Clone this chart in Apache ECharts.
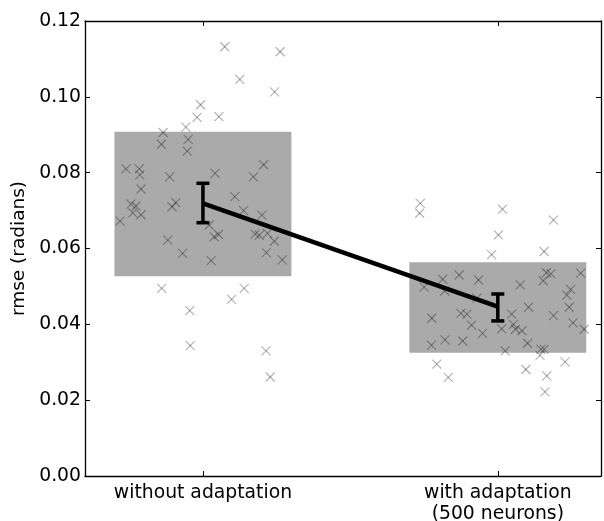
<!DOCTYPE html>
<html>
<head>
<meta charset="utf-8">
<script src="https://cdn.jsdelivr.net/npm/echarts@6/dist/echarts.min.js"></script>
<style>
html,body{margin:0;padding:0;background:#fff;}
#chart{width:604px;height:521px;}
</style>
</head>
<body>
<div id="chart"></div>
<script>
// ---- data ----
const categories = ['without adaptation', 'with adaptation\n(500 neurons)'];
const categoryPositions = [0, 1];
const meanValues = [0.0719, 0.0447];
const errLow = [0.0668, 0.0409];
const errHigh = [0.0772, 0.0480];
const boxLow = [0.0527, 0.0325];
const boxHigh = [0.0908, 0.0564];
const yTicks = [0, 0.02, 0.04, 0.06, 0.08, 0.10, 0.12];

// individual trials [x (jittered category position), rmse]
const trialsWithout = [
  [0.074,0.1132],[0.262,0.1119],[0.125,0.1046],[0.243,0.1013],[-0.008,0.0979],
  [-0.020,0.0946],[0.054,0.0948],[-0.135,0.0906],[-0.058,0.0920],[-0.141,0.0875],
  [-0.050,0.0888],[-0.053,0.0857],[-0.261,0.0810],[-0.216,0.0810],[-0.214,0.0794],
  [-0.113,0.0789],[0.041,0.0798],[0.171,0.0789],[0.206,0.0821],[-0.210,0.0757],
  [-0.244,0.0717],[-0.227,0.0712],[-0.238,0.0694],[-0.210,0.0689],[-0.281,0.0672],
  [-0.092,0.0721],[-0.105,0.0710],[0.108,0.0737],[0.138,0.0700],[0.200,0.0688],
  [0.021,0.0662],[0.038,0.0631],[0.053,0.0637],[0.177,0.0638],[0.191,0.0635],
  [0.219,0.0640],[0.242,0.0619],[-0.119,0.0622],[-0.069,0.0587],[0.028,0.0568],
  [0.215,0.0589],[0.269,0.0570],[-0.140,0.0495],[0.140,0.0495],[0.097,0.0466],
  [-0.045,0.0436],[-0.043,0.0344],[0.214,0.0330],[0.228,0.0261]
];
const trialsWith = [
  [0.737,0.0719],[0.735,0.0693],[1.016,0.0704],[1.189,0.0675],[1.002,0.0636],
  [0.979,0.0584],[1.157,0.0592],[1.281,0.0535],[1.165,0.0536],[1.180,0.0533],
  [1.154,0.0515],[0.869,0.0530],[0.813,0.0519],[0.935,0.0517],[0.750,0.0498],
  [0.820,0.0488],[1.076,0.0504],[1.247,0.0492],[1.234,0.0477],[0.929,0.0469],
  [1.104,0.0445],[1.242,0.0445],[1.189,0.0423],[0.776,0.0416],[0.875,0.0429],
  [0.895,0.0427],[1.047,0.0427],[0.911,0.0398],[0.948,0.0376],[1.013,0.0388],
  [1.053,0.0400],[1.060,0.0387],[1.082,0.0383],[1.255,0.0404],[1.293,0.0387],
  [0.775,0.0345],[0.821,0.0359],[0.881,0.0356],[1.101,0.0350],[1.025,0.0330],
  [1.146,0.0334],[1.157,0.0334],[1.143,0.0318],[0.793,0.0295],[0.832,0.0260],
  [1.095,0.0281],[1.228,0.0301],[1.166,0.0264],[1.160,0.0222]
];

// ---- styling constants ----
const FONT = 'DejaVu Sans';
const BOX_HALF = 0.3;

const chart = echarts.init(document.getElementById('chart'), null, {renderer: 'canvas'});

const boxData = categoryPositions.map((x, i) => [x, boxLow[i], boxHigh[i]]);
const errData = categoryPositions.map((x, i) => [x, errLow[i], errHigh[i]]);
const meanData = categoryPositions.map((x, i) => [x, meanValues[i]]);

function crossRender(params, api) {
  const p = api.coord([api.value(0), api.value(1)]);
  const s = 4.5;
  const st = {stroke: 'rgba(0,0,0,0.3)', lineWidth: 1.2, fill: null};
  return {type: 'group', children: [
    {type: 'line', shape: {x1: p[0]-s, y1: p[1]-s, x2: p[0]+s, y2: p[1]+s}, style: st},
    {type: 'line', shape: {x1: p[0]-s, y1: p[1]+s, x2: p[0]+s, y2: p[1]-s}, style: st}
  ]};
}

const option = {
  animation: false,
  backgroundColor: '#ffffff',
  grid: {left: 85, right: 3, top: 21, bottom: 45, containLabel: false, outerBoundsMode: 'none'},
  xAxis: [{
    type: 'value', min: -0.4, max: 1.35, position: 'bottom',
    axisLine: {show: true, onZero: false, lineStyle: {color: '#000', width: 1.3}},
    axisTick: {show: true, inside: true, length: 5, customValues: categoryPositions, lineStyle: {color: '#000', width: 1}},
    axisLabel: {show: true, customValues: categoryPositions, margin: 7, color: '#000', fontFamily: FONT, fontSize: 18.8, lineHeight: 21,
      formatter: v => { const i = categoryPositions.indexOf(Math.round(v)); return i >= 0 ? categories[i] : ''; }},
    splitLine: {show: false}
  }, {
    type: 'value', min: -0.4, max: 1.35, position: 'top',
    axisLine: {show: true, onZero: false, lineStyle: {color: '#000', width: 1.3}},
    axisTick: {show: true, inside: true, length: 5, customValues: categoryPositions, lineStyle: {color: '#000', width: 1}},
    axisLabel: {show: false},
    splitLine: {show: false}
  }],
  yAxis: [{
    type: 'value', min: 0, max: 0.12, interval: 0.02, position: 'left',
    name: 'rmse (radians)', nameLocation: 'middle', nameGap: 47,
    nameTextStyle: {color: '#000', fontFamily: FONT, fontSize: 18.5},
    axisLine: {show: true, onZero: false, lineStyle: {color: '#000', width: 1.3}},
    axisTick: {show: true, inside: true, length: 5, lineStyle: {color: '#000', width: 1}},
    axisLabel: {show: true, margin: 4, color: '#000', fontFamily: FONT, fontSize: 18.8,
      formatter: v => v.toFixed(2)},
    splitLine: {show: false}
  }, {
    type: 'value', min: 0, max: 0.12, interval: 0.02, position: 'right',
    axisLine: {show: true, onZero: false, lineStyle: {color: '#000', width: 1.3}},
    axisTick: {show: true, inside: true, length: 5, lineStyle: {color: '#000', width: 1}},
    axisLabel: {show: false},
    splitLine: {show: false}
  }],
  series: [
    {
      type: 'custom', name: 'box', xAxisIndex: 0, yAxisIndex: 0, z: 1,
      data: boxData,
      encode: {x: 0, y: [1, 2]},
      renderItem: (params, api) => {
        const x = api.value(0);
        const a = api.coord([x - BOX_HALF, api.value(2)]);
        const b = api.coord([x + BOX_HALF, api.value(1)]);
        return {type: 'rect', shape: {x: a[0], y: a[1], width: b[0]-a[0], height: b[1]-a[1]},
          style: {fill: '#aaaaaa', stroke: null}};
      }
    },
    {
      type: 'custom', name: 'without', z: 2, data: trialsWithout,
      encode: {x: 0, y: 1}, renderItem: crossRender
    },
    {
      type: 'custom', name: 'with', z: 2, data: trialsWith,
      encode: {x: 0, y: 1}, renderItem: crossRender
    },
    {
      type: 'line', name: 'mean', z: 3, data: meanData, symbol: 'none',
      lineStyle: {color: '#000', width: 4.5}
    },
    {
      type: 'custom', name: 'err', z: 4, data: errData,
      encode: {x: 0, y: [1, 2]},
      renderItem: (params, api) => {
        const x = api.value(0);
        const lo = api.coord([x, api.value(1)]);
        const hi = api.coord([x, api.value(2)]);
        const c = 6.5;
        const st = {stroke: '#000', lineWidth: 3.5};
        return {type: 'group', children: [
          {type: 'line', shape: {x1: lo[0], y1: lo[1], x2: hi[0], y2: hi[1]}, style: st},
          {type: 'line', shape: {x1: lo[0]-c, y1: lo[1], x2: lo[0]+c, y2: lo[1]}, style: st},
          {type: 'line', shape: {x1: hi[0]-c, y1: hi[1], x2: hi[0]+c, y2: hi[1]}, style: st}
        ]};
      }
    }
  ]
};
chart.setOption(option);
</script>
</body>
</html>
